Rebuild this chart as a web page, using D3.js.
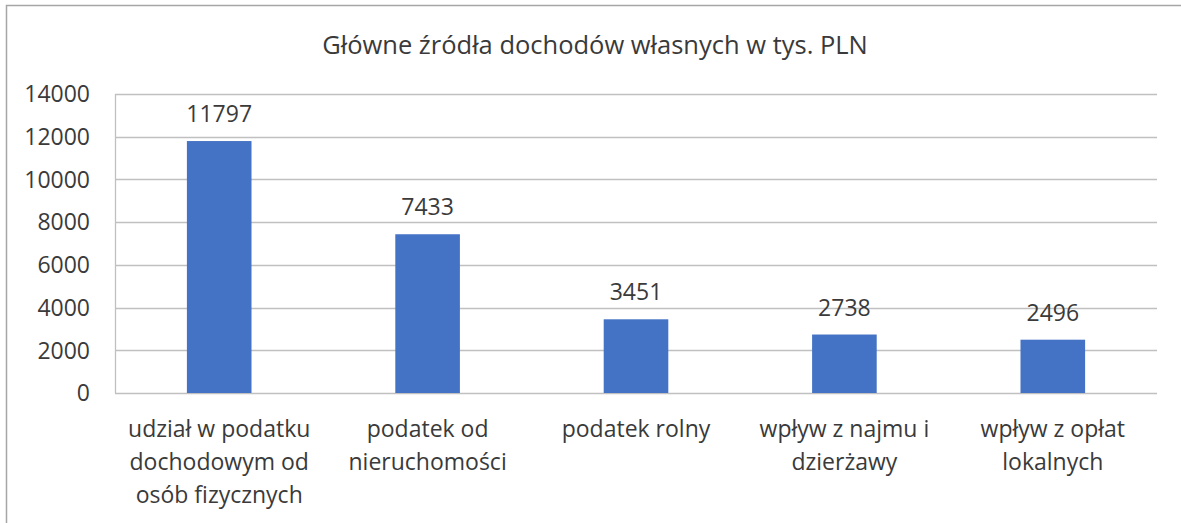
<!DOCTYPE html>
<html>
<head>
<meta charset="utf-8">
<script src="https://cdn.jsdelivr.net/npm/d3@7"></script>
<style>
  body { margin: 0; background: #fff; }
  text { font-family: "Open Sans", sans-serif; fill: #3a3a3a; }
</style>
</head>
<body>
<svg id="chart"></svg>
<script>
const w = 1181,
      h = 523;
const title = 'Główne źródła dochodów własnych w tys. PLN';
const categories = [
  'udział w podatku\ndochodowym od\nosób fizycznych',
  'podatek od\nnieruchomości',
  'podatek rolny',
  'wpływ z najmu i\ndzierżawy',
  'wpływ z opłat\nlokalnych'
];
const values = [11797, 7433, 3451, 2738, 2496];
const yTicks = [0, 2000, 4000, 6000, 8000, 10000, 12000, 14000];

const margin = {left: 115, right: 24, top: 94, bottom: 130};

const svg = d3.select('#chart').attr('width', w).attr('height', h);

// chart frame, runs off the picture on the right and bottom
svg.append('rect')
   .attr('x', 6.5).attr('y', 5.5)
   .attr('width', w + 20).attr('height', h + 20)
   .attr('fill', 'none').attr('stroke', '#a6a6a6').attr('stroke-width', 1.5);

const x = d3.scaleBand()
            .domain(categories)
            .range([margin.left, w - margin.right])
            .paddingInner(0.69).paddingOuter(0.345);

const y = d3.scaleLinear()
            .domain([0, 14000])
            .range([h - margin.bottom, margin.top]);

svg.append('text')
   .attr('x', 595).attr('y', 54)
   .attr('text-anchor', 'middle')
   .style('font-size', '25.5px')
   .text(title);

// gridlines
svg.append('g').selectAll('line')
   .data(yTicks)
   .enter().append('line')
   .attr('x1', margin.left).attr('x2', w - margin.right)
   .attr('y1', d => Math.round(y(d)) + 0.5).attr('y2', d => Math.round(y(d)) + 0.5)
   .attr('stroke', '#c0c0c0').attr('stroke-width', 1.3);

svg.append('line')
   .attr('x1', margin.left + 0.5).attr('x2', margin.left + 0.5)
   .attr('y1', y(14000)).attr('y2', y(0))
   .attr('stroke', '#c0c0c0').attr('stroke-width', 1.3);

// y tick labels
svg.append('g').selectAll('text')
   .data(yTicks)
   .enter().append('text')
   .attr('x', 90).attr('y', d => y(d))
   .attr('dy', '0.36em')
   .attr('text-anchor', 'end')
   .style('font-size', '23px')
   .text(d => d);

// bars
svg.append('g').selectAll('rect')
   .data(values)
   .enter().append('rect')
   .attr('x', (d, i) => x(categories[i]))
   .attr('width', x.bandwidth())
   .attr('y', d => y(d))
   .attr('height', d => y(0) - y(d))
   .attr('fill', '#4472c4');

// value labels
svg.append('g').selectAll('text')
   .data(values)
   .enter().append('text')
   .attr('x', (d, i) => x(categories[i]) + x.bandwidth() / 2)
   .attr('y', d => y(d) - 19)
   .attr('text-anchor', 'middle')
   .style('font-size', '23px')
   .text(d => d);

// category labels
const cat = svg.append('g').selectAll('text')
   .data(categories)
   .enter().append('text')
   .attr('x', d => x(d) + x.bandwidth() / 2)
   .attr('y', 437)
   .attr('text-anchor', 'middle')
   .style('font-size', '23px');

cat.selectAll('tspan')
   .data(d => d.split('\n').map(s => ({s, x: x(d) + x.bandwidth() / 2})))
   .enter().append('tspan')
   .attr('x', t => t.x)
   .attr('dy', (t, i) => i ? 33 : 0)
   .text(t => t.s);
</script>
</body>
</html>
